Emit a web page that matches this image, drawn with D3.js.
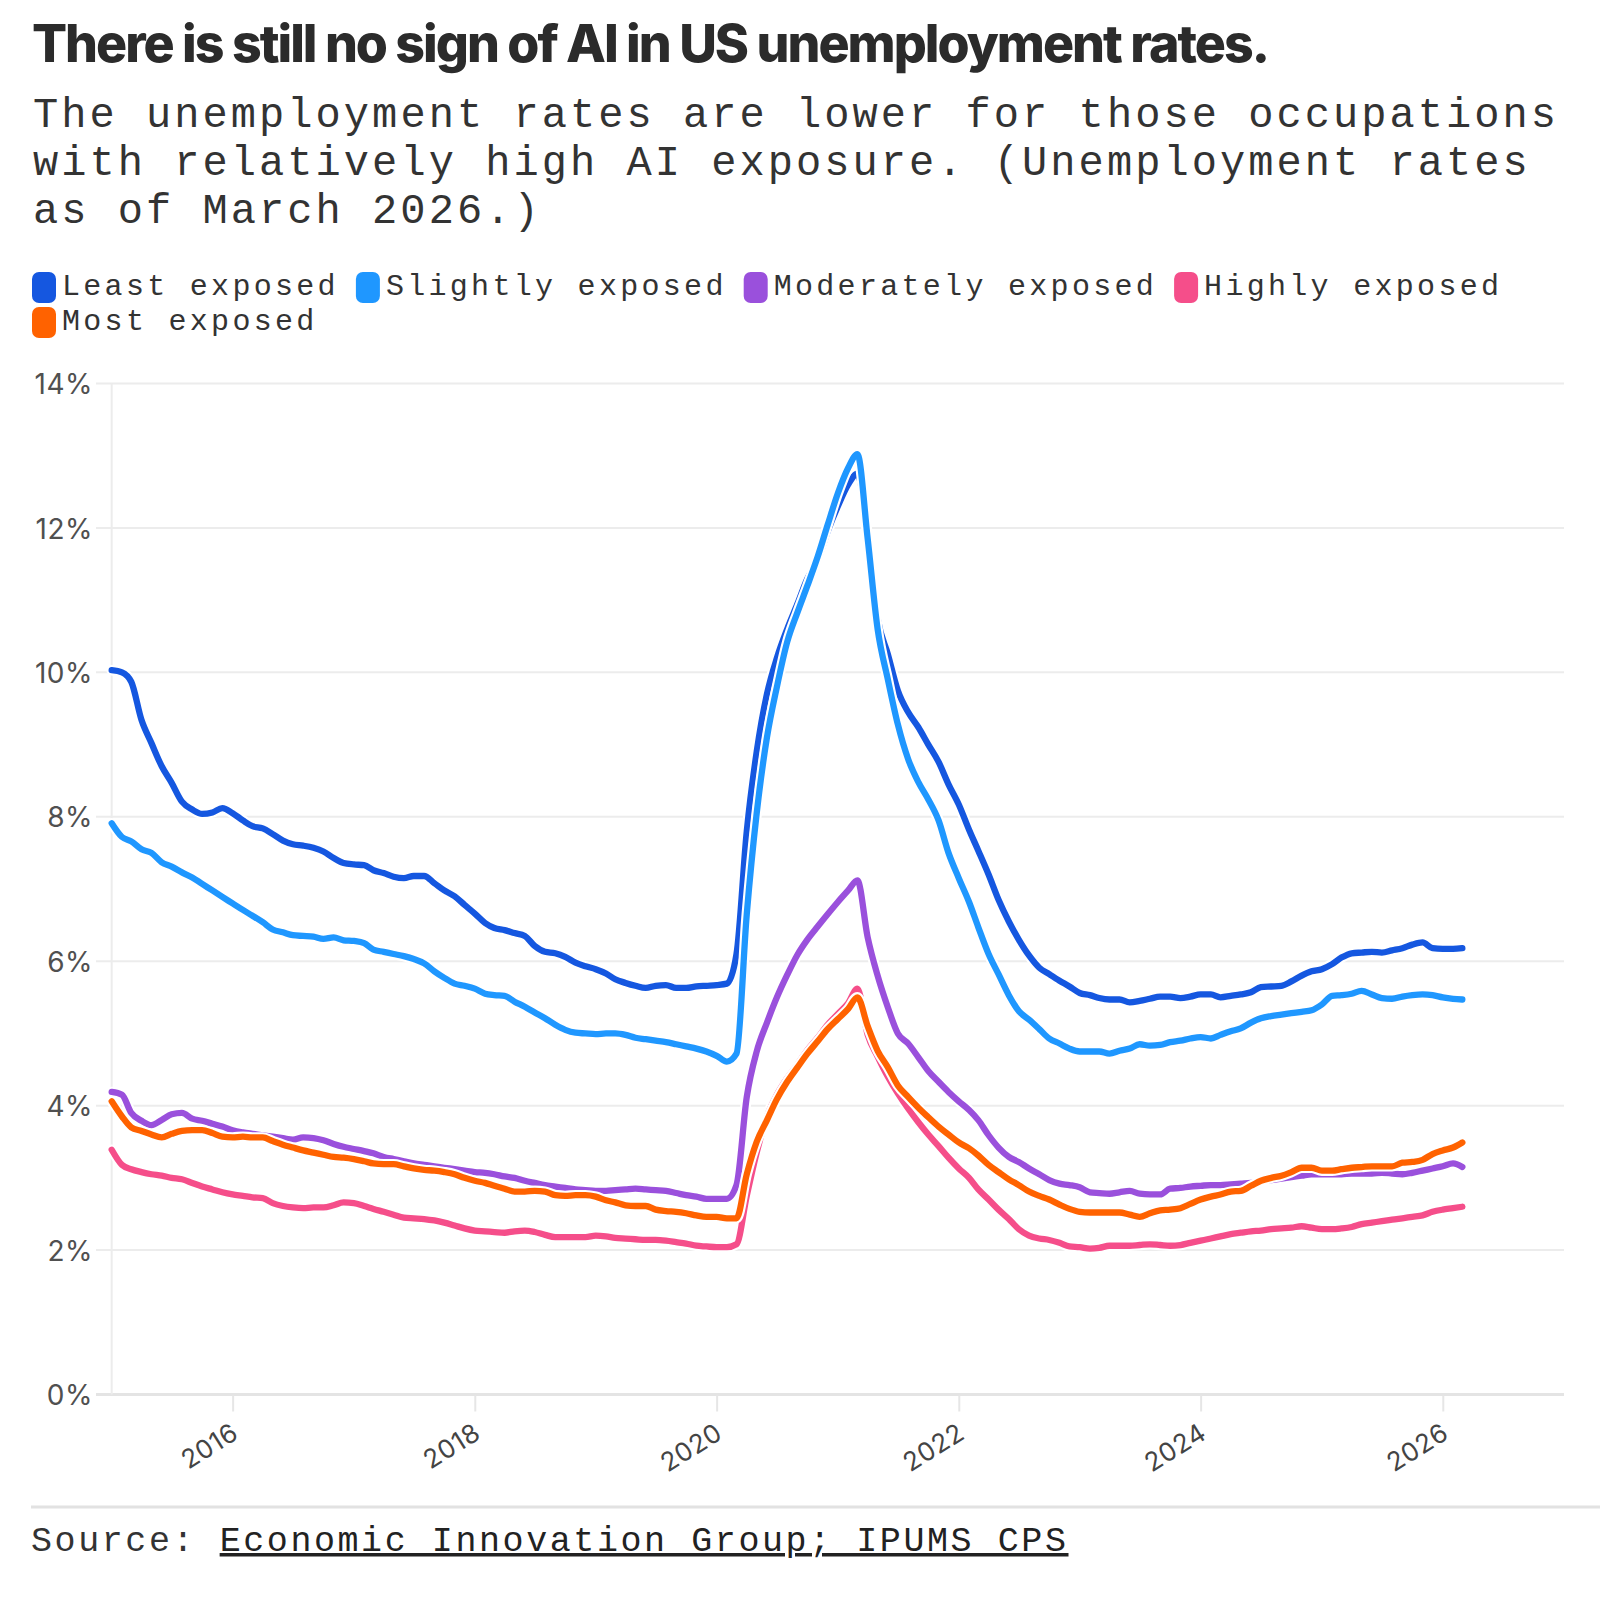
<!DOCTYPE html>
<html><head><meta charset="utf-8">
<script src="https://cdn.jsdelivr.net/npm/d3@7"></script>
<style>body{margin:0;background:#fff}svg{display:block}</style>
</head><body>
<svg id="chart" width="1600" height="1614"></svg>
<script>
// ---------- DATA ----------
const titleText = "There is still no sign of AI in US unemployment rates.";
const subtitleLines = [
  "The unemployment rates are lower for those occupations",
  "with relatively high AI exposure. (Unemployment rates",
  "as of March 2026.)"
];
const sourceLabel = "Source: ";
const sourceLink = "Economic Innovation Group; IPUMS CPS";

const firstMonth = new Date(2015, 0, 1);   // monthly series, Jan 2015 – Mar 2026
const seriesNames = ["Least exposed", "Slightly exposed", "Moderately exposed", "Highly exposed", "Most exposed"];
const seriesColors = ["#1557e0", "#1f97ff", "#9a50dc", "#f54e8a", "#ff6200"];

const leastExposed = [
 10.03,10.0,9.87,9.34,9.02,8.70,8.47,8.21,8.10,8.04,
 8.06,8.12,8.05,7.95,7.87,7.84,7.76,7.67,7.62,7.60,
 7.57,7.52,7.43,7.36,7.34,7.33,7.26,7.22,7.17,7.15,
 7.18,7.18,7.08,6.98,6.90,6.78,6.66,6.53,6.46,6.43,
 6.39,6.35,6.21,6.13,6.11,6.06,5.98,5.93,5.89,5.83,
 5.75,5.70,5.66,5.63,5.66,5.67,5.63,5.63,5.65,5.66,
 5.67,5.69,6.1,7.8,8.9,9.7,10.2,10.6,10.95,11.3,
 11.55,11.95,12.3,12.6,12.75,11.9,10.75,10.25,9.75,9.45,
 9.24,9.0,8.76,8.45,8.17,7.82,7.53,7.2,6.85,6.55,
 6.3,6.08,5.91,5.82,5.73,5.65,5.56,5.53,5.49,5.47,
 5.47,5.43,5.45,5.48,5.51,5.51,5.49,5.51,5.54,5.54,
 5.50,5.52,5.54,5.57,5.64,5.65,5.66,5.72,5.80,5.86,
 5.89,5.96,6.05,6.11,6.12,6.13,6.12,6.15,6.18,6.23,
 6.26,6.18,6.17,6.17,6.18
];
const slightlyExposed = [
 7.91,7.72,7.66,7.55,7.50,7.37,7.31,7.23,7.16,7.07,
 6.98,6.89,6.80,6.71,6.63,6.54,6.44,6.40,6.36,6.35,
 6.34,6.31,6.33,6.29,6.28,6.25,6.16,6.13,6.10,6.07,
 6.03,5.97,5.86,5.77,5.69,5.66,5.62,5.55,5.53,5.52,
 5.44,5.37,5.29,5.21,5.12,5.05,5.01,5.00,4.99,5.00,
 5.00,4.98,4.94,4.92,4.90,4.88,4.85,4.82,4.79,4.75,
 4.69,4.61,4.72,6.65,8.05,9.1,9.8,10.42,10.83,11.2,
 11.6,12.04,12.48,12.83,13.02,11.85,10.6,9.9,9.28,8.8,
 8.48,8.24,7.95,7.5,7.15,6.82,6.47,6.1,5.82,5.53,
 5.31,5.19,5.06,4.93,4.86,4.79,4.75,4.75,4.75,4.72,
 4.76,4.79,4.85,4.83,4.84,4.88,4.9,4.93,4.95,4.93,
 4.98,5.03,5.07,5.15,5.21,5.24,5.26,5.28,5.3,5.32,
 5.4,5.52,5.53,5.55,5.59,5.54,5.49,5.48,5.51,5.53,
 5.54,5.53,5.5,5.48,5.47
];
const moderatelyExposed = [
 4.19,4.15,3.90,3.79,3.73,3.80,3.88,3.90,3.82,3.79,
 3.75,3.71,3.66,3.63,3.61,3.59,3.57,3.55,3.53,3.56,
 3.55,3.52,3.47,3.43,3.40,3.37,3.34,3.29,3.26,3.23,
 3.20,3.18,3.16,3.14,3.12,3.10,3.08,3.07,3.05,3.02,
 3.00,2.96,2.93,2.90,2.88,2.86,2.84,2.83,2.82,2.82,
 2.83,2.84,2.85,2.84,2.83,2.82,2.79,2.76,2.74,2.71,
 2.71,2.71,2.9,4.12,4.75,5.15,5.5,5.81,6.09,6.3,
 6.48,6.65,6.82,6.98,7.12,6.33,5.8,5.36,5.0,4.86,
 4.67,4.48,4.33,4.19,4.06,3.94,3.8,3.59,3.42,3.29,
 3.22,3.13,3.05,2.97,2.92,2.9,2.87,2.8,2.79,2.78,
 2.8,2.82,2.78,2.77,2.77,2.85,2.86,2.88,2.89,2.9,
 2.9,2.91,2.92,2.93,2.95,2.97,2.99,3.01,3.03,3.05,
 3.05,3.05,3.05,3.06,3.06,3.06,3.07,3.06,3.05,3.07,
 3.1,3.13,3.16,3.2,3.15
];
const highlyExposed = [
 3.39,3.18,3.12,3.08,3.05,3.03,3.00,2.98,2.93,2.88,
 2.84,2.80,2.77,2.75,2.73,2.72,2.65,2.61,2.59,2.58,
 2.59,2.59,2.62,2.66,2.65,2.61,2.57,2.53,2.49,2.45,
 2.44,2.43,2.41,2.38,2.34,2.30,2.27,2.26,2.25,2.24,
 2.26,2.27,2.25,2.21,2.18,2.18,2.18,2.18,2.20,2.19,
 2.17,2.16,2.15,2.14,2.14,2.13,2.11,2.09,2.06,2.05,
 2.04,2.04,2.08,2.75,3.35,3.85,4.15,4.38,4.57,4.77,
 4.94,5.12,5.27,5.42,5.62,4.98,4.68,4.4,4.17,3.96,
 3.77,3.6,3.44,3.28,3.13,3.0,2.84,2.7,2.56,2.43,
 2.29,2.2,2.16,2.14,2.1,2.05,2.04,2.02,2.03,2.06,
 2.06,2.06,2.07,2.08,2.07,2.06,2.07,2.1,2.13,2.16,
 2.19,2.22,2.24,2.26,2.27,2.29,2.3,2.31,2.33,2.31,
 2.29,2.29,2.3,2.32,2.36,2.38,2.4,2.42,2.44,2.46,
 2.48,2.53,2.56,2.58,2.6
];
const mostExposed = [
 4.06,3.85,3.70,3.65,3.60,3.56,3.61,3.65,3.66,3.66,
 3.62,3.57,3.56,3.57,3.56,3.56,3.51,3.46,3.42,3.38,
 3.35,3.32,3.29,3.28,3.26,3.23,3.20,3.19,3.19,3.16,
 3.13,3.11,3.10,3.08,3.05,3.00,2.96,2.93,2.89,2.85,
 2.81,2.81,2.82,2.81,2.76,2.75,2.76,2.76,2.74,2.69,
 2.66,2.62,2.61,2.61,2.56,2.54,2.53,2.51,2.48,2.46,
 2.46,2.44,2.44,3.05,3.5,3.8,4.09,4.33,4.53,4.72,
 4.89,5.06,5.2,5.34,5.5,5.1,4.76,4.53,4.28,4.12,
 3.97,3.84,3.71,3.6,3.49,3.41,3.31,3.18,3.08,2.98,
 2.9,2.81,2.75,2.7,2.63,2.57,2.53,2.52,2.52,2.52,
 2.52,2.49,2.46,2.51,2.55,2.56,2.58,2.64,2.7,2.74,
 2.77,2.81,2.82,2.89,2.96,3.0,3.03,3.08,3.14,3.14,
 3.1,3.1,3.12,3.14,3.15,3.16,3.16,3.16,3.21,3.22,
 3.25,3.33,3.38,3.42,3.49
];
const seriesValues = [leastExposed, slightlyExposed, moderatelyExposed, highlyExposed, mostExposed];

const yTickValues = [0, 2, 4, 6, 8, 10, 12, 14];
const xTickYears = [2016, 2018, 2020, 2022, 2024, 2026];
const xDomain = [new Date(2015, 0, 1), new Date(2027, 0, 1)];
const yDomain = [0, 14];

// ---------- DRAW ----------
const svg = d3.select("#chart");
svg.append("rect").attr("width", 1600).attr("height", 1614).attr("fill", "#fff");

const MONO = "'Liberation Mono', 'DejaVu Sans Mono', monospace";
const SANS = "Inter, 'Open Sans', sans-serif";

function fitAdvance(sel, advance) {
  const node = sel.node();
  const n = sel.text().length;
  const len = node.getComputedTextLength();
  sel.attr("letter-spacing", (advance - len / n).toFixed(3));
}

// Title
svg.append("text")
  .attr("x", 32).attr("y", 62)
  .attr("font-family", SANS).attr("font-weight", 800).attr("font-size", 52)
  .attr("letter-spacing", -2)
  .attr("fill", "#2b2b2b")
  .attr("textLength", 1236).attr("lengthAdjust", "spacingAndGlyphs")
  .text(titleText);

// Subtitle
subtitleLines.forEach((line, i) => {
  const t = svg.append("text")
    .attr("x", 33).attr("y", 127 + i * 48)
    .attr("font-family", MONO).attr("font-size", 42)
    .attr("fill", "#333")
    .text(line);
  fitAdvance(t, 28.26);
});

// Legend
const legendAdvance = 21.3;
const legendRows = [295, 330];
let lx = 32, row = 0;
const legendG = svg.append("g");
seriesNames.forEach((name, i) => {
  const g = legendG.append("g");
  const t = g.append("text")
    .attr("font-family", MONO).attr("font-size", 30).attr("fill", "#333")
    .text(name);
  fitAdvance(t, legendAdvance);
  const w = 30 + name.length * legendAdvance;
  if (lx + w > 1565) { lx = 32; row += 1; }
  const base = legendRows[row];
  g.insert("rect", "text")
    .attr("x", lx).attr("y", base - 23).attr("width", 24).attr("height", 31)
    .attr("rx", 7).attr("fill", seriesColors[i]);
  t.attr("x", lx + 30).attr("y", base);
  lx += w + 17;
});

// Scales
const x = d3.scaleTime().domain(xDomain).range([111.7, 1563.7]);
const y = d3.scaleLinear().domain(yDomain).range([1394.5, 383.5]);

// Gridlines
const grid = svg.append("g");
yTickValues.forEach(v => {
  grid.append("line")
    .attr("x1", 96).attr("x2", 1564)
    .attr("y1", y(v)).attr("y2", y(v))
    .attr("stroke", v === 0 ? "#e4e4e4" : "#ececec")
    .attr("stroke-width", v === 0 ? 3 : 2);
});
grid.append("line")
  .attr("x1", 111.7).attr("x2", 111.7).attr("y1", y(14)).attr("y2", y(0))
  .attr("stroke", "#ececec").attr("stroke-width", 2);

// Y axis labels
const yAxis = d3.axisLeft(y).tickValues(yTickValues).tickFormat(d => d + "%").tickSize(0).tickPadding(0);
const yAxisG = svg.append("g").attr("transform", "translate(93,0)").call(yAxis);
yAxisG.select(".domain").remove();
yAxisG.selectAll("text")
  .attr("font-family", SANS).attr("font-size", 28).attr("fill", "#505050")
  .attr("letter-spacing", 0.5)
  .attr("dy", "0.36em");

// X axis
const xTickDates = xTickYears.map(yr => new Date(yr, 0, 1));
const xAxis = d3.axisBottom(x).tickValues(xTickDates).tickFormat(d3.timeFormat("%Y")).tickSize(16).tickPadding(0);
const xAxisG = svg.append("g").attr("transform", `translate(0,${y(0) + 1})`).call(xAxis);
xAxisG.select(".domain").remove();
xAxisG.selectAll(".tick line").attr("stroke", "#e6e6e6").attr("stroke-width", 2);
xAxisG.selectAll(".tick text")
  .attr("font-family", SANS).attr("font-size", 26).attr("fill", "#444")
  .attr("letter-spacing", 0.5)
  .attr("text-anchor", "end")
  .attr("dy", null)
  .attr("y", null)
  .attr("transform", "translate(7,42) rotate(-32)");

// Lines
const dates = d3.timeMonth.range(firstMonth, d3.timeMonth.offset(firstMonth, leastExposed.length));
const line = d3.line()
  .x(d => x(d.date)).y(d => y(d.v))
  .curve(d3.curveMonotoneX);
const linesG = svg.append("g");
seriesValues.forEach((vals, i) => {
  const data = vals.map((v, j) => ({ date: dates[j], v }));
  linesG.append("path").datum(data)
    .attr("d", line).attr("fill", "none")
    .attr("stroke", "#fff").attr("stroke-width", 10.5)
    .attr("stroke-linejoin", "round").attr("stroke-linecap", "round");
  linesG.append("path").datum(data)
    .attr("d", line).attr("fill", "none")
    .attr("stroke", seriesColors[i]).attr("stroke-width", 6.3)
    .attr("stroke-linejoin", "round").attr("stroke-linecap", "round");
});

// Footer divider + source
svg.append("line")
  .attr("x1", 31).attr("x2", 1600).attr("y1", 1507).attr("y2", 1507)
  .attr("stroke", "#e2e2e2").attr("stroke-width", 3);

const src = svg.append("text")
  .attr("x", 31).attr("y", 1551)
  .attr("font-family", MONO).attr("font-size", 35).attr("fill", "#333");
src.append("tspan").text(sourceLabel);
src.append("tspan").attr("fill", "#222").attr("text-decoration", "underline").text(sourceLink);
fitAdvance(src, 23.58);
</script>
</body></html>
